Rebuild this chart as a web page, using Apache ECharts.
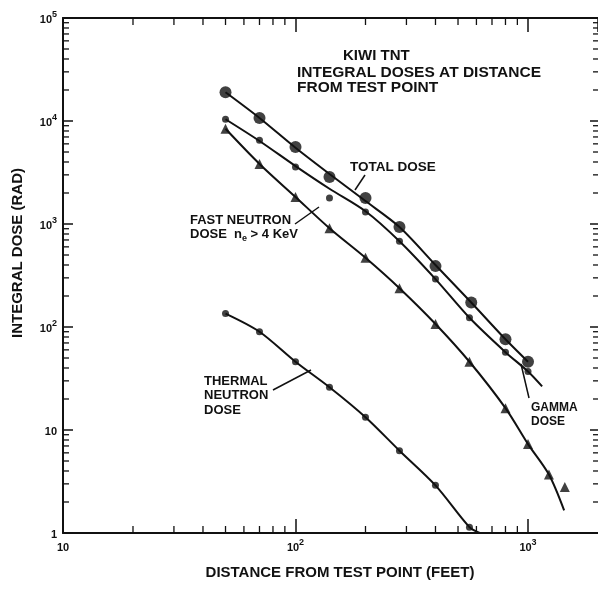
<!DOCTYPE html>
<html>
<head>
<meta charset="utf-8">
<script src="https://cdn.jsdelivr.net/npm/echarts@6/dist/echarts.min.js"></script>
<style>
html,body{margin:0;padding:0;background:#fff;}
#c{width:598px;height:589px;}
</style>
</head>
<body>
<div id="c"></div>
<script>
// ---- data ----
const distTotal   = [50, 70, 100, 140, 200, 280, 400, 570, 800, 1000];
const doseTotal   = [19000, 10700, 5600, 2860, 1790, 935, 390, 173, 76, 46];

const distGamma   = [50, 70, 100, 140, 200, 280, 400, 560, 800, 1000];
const doseGamma   = [10400, 6500, 3570, 1790, 1310, 680, 292, 123, 57, 37];

const distFast    = [50, 70, 100, 140, 200, 280, 400, 560, 800, 1000, 1230, 1440];
const doseFast    = [8400, 3830, 1830, 910, 470, 238, 107, 46, 16.3, 7.3, 3.7, 2.8];

const distThermal = [50, 70, 100, 140, 200, 280, 400, 560];
const doseThermal = [135, 90, 46, 26, 13.3, 6.3, 2.9, 1.14];

// fitted curves as drawn in the reference (they do not pass through every point)
const curveTotalX   = [50, 70, 100, 140, 200, 280, 400, 570, 800, 1000];
const curveTotalY   = [19000, 10700, 5500, 3060, 1670, 935, 400, 173, 76, 46];
const curveGammaX   = [50, 70, 100, 140, 200, 280, 400, 560, 800, 1000, 1150];
const curveGammaY   = [10400, 6400, 3650, 2200, 1330, 680, 292, 123, 57, 37, 26.5];
const curveFastX    = [50, 70, 100, 140, 200, 280, 400, 560, 800, 1000, 1230, 1430];
const curveFastY    = [8400, 3830, 1830, 910, 470, 238, 107, 46, 16.3, 7.3, 3.7, 1.66];
const curveThermalX = [50, 70, 100, 140, 200, 280, 400, 560, 620];
const curveThermalY = [135, 90, 46, 26, 13.3, 6.3, 2.9, 1.14, 1];

// axis ranges and minor tick values
const X_MIN = 10, X_MAX = 2000;
const Y_MIN = 1, Y_MAX = 100000;
const xMinorTicks = [20, 30, 40, 50, 60, 70, 80, 90, 200, 300, 400, 500, 600, 700, 800, 900];
const yMinorTicks = [2, 3, 4, 5, 6, 7, 8, 9, 20, 30, 40, 50, 60, 70, 80, 90,
  200, 300, 400, 500, 600, 700, 800, 900, 2000, 3000, 4000, 5000, 6000, 7000, 8000, 9000,
  20000, 30000, 40000, 50000, 60000, 70000, 80000, 90000];

const FONT = 'Liberation Sans';
const INK = '#111';

function pair(xs, ys) { return xs.map((x, i) => [x, ys[i]]); }

function powLabel(v) {
  const l = Math.log10(v);
  const e = Math.round(l);
  if (Math.abs(l - e) > 1e-6) return '';
  if (e === 0) return '{b|1}';
  if (e === 1) return '{b|10}';
  return '{b|10}{s|' + e + '}';
}
const labelRich = {
  b: { fontSize: 11, fontWeight: 'bold', fontFamily: FONT, color: INK, lineHeight: 15, verticalAlign: 'bottom' },
  s: { fontSize: 9, fontWeight: 'bold', fontFamily: FONT, color: INK, lineHeight: 9, verticalAlign: 'top' }
};

function axisCommon(extra) {
  return Object.assign({
    type: 'log', logBase: 10,
    axisLine: { show: true, lineStyle: { color: INK, width: 2 } },
    axisTick: { show: true, inside: true, length: 12, lineStyle: { color: INK, width: 1.5 } },
    splitLine: { show: false },
    minorTick: { show: false },
    minorSplitLine: { show: false }
  }, extra);
}

function minorXRender(params, api) {
  const v = api.value(0);
  const b = api.coord([v, Y_MIN]);
  const t = api.coord([v, Y_MAX]);
  return { type: 'group', children: [
    { type: 'line', shape: { x1: b[0], y1: b[1], x2: b[0], y2: b[1] - 7 }, style: { stroke: INK, lineWidth: 1.3 } },
    { type: 'line', shape: { x1: t[0], y1: t[1], x2: t[0], y2: t[1] + 7 }, style: { stroke: INK, lineWidth: 1.3 } }
  ]};
}
function minorYRender(params, api) {
  const v = api.value(1);
  const l = api.coord([X_MIN, v]);
  const r = api.coord([X_MAX, v]);
  return { type: 'group', children: [
    { type: 'line', shape: { x1: l[0], y1: l[1], x2: l[0] + 6, y2: l[1] }, style: { stroke: INK, lineWidth: 1.3 } },
    { type: 'line', shape: { x1: r[0], y1: r[1], x2: r[0] - 5, y2: r[1] }, style: { stroke: INK, lineWidth: 1.3 } }
  ]};
}

const lineStyleCurve = { color: INK, width: 2 };

const chart = echarts.init(document.getElementById('c'), null, { renderer: 'canvas' });
chart.setOption({
  backgroundColor: '#fff',
  animation: false,
  grid: { left: 63, top: 18, right: -2, bottom: 56 },
  xAxis: [
    axisCommon({ min: X_MIN, max: X_MAX, position: 'bottom',
      axisTick: { show: true, inside: true, length: 14, lineStyle: { color: INK, width: 1.5 } },
      axisLabel: { show: true, margin: 5, formatter: powLabel, rich: labelRich, showMaxLabel: false } }),
    axisCommon({ min: X_MIN, max: X_MAX, position: 'top',
      axisTick: { show: true, inside: true, length: 14, lineStyle: { color: INK, width: 1.5 } },
      axisLabel: { show: false } })
  ],
  yAxis: [
    axisCommon({ min: Y_MIN, max: Y_MAX, position: 'left',
      axisTick: { show: true, inside: true, length: 10, lineStyle: { color: INK, width: 1.5 } },
      axisLabel: { show: true, margin: 6, formatter: powLabel, rich: labelRich } }),
    axisCommon({ min: Y_MIN, max: Y_MAX, position: 'right',
      axisLine: { show: false },
      axisTick: { show: true, inside: true, length: 8, lineStyle: { color: INK, width: 1.5 } },
      axisLabel: { show: false } })
  ],
  series: [
    { type: 'custom', renderItem: minorXRender, data: xMinorTicks.map(v => [v, Y_MIN]), silent: true, clip: false, z: 5 },
    { type: 'custom', renderItem: minorYRender, data: yMinorTicks.map(v => [X_MIN, v]), silent: true, clip: false, z: 5 },

    { type: 'line', data: pair(curveTotalX, curveTotalY), smooth: 0.3, symbol: 'none', lineStyle: lineStyleCurve, silent: true },
    { type: 'line', data: pair(curveGammaX, curveGammaY), smooth: 0.3, symbol: 'none', lineStyle: lineStyleCurve, silent: true },
    { type: 'line', data: pair(curveFastX, curveFastY), smooth: 0.3, symbol: 'none', lineStyle: lineStyleCurve, silent: true },
    { type: 'line', data: pair(curveThermalX, curveThermalY), smooth: 0.3, symbol: 'none', lineStyle: lineStyleCurve, silent: true },

    { type: 'scatter', data: pair(distTotal, doseTotal), symbol: 'circle', symbolSize: 12, itemStyle: { color: INK }, z: 4 },
    { type: 'scatter', data: pair(distGamma, doseGamma), symbol: 'circle', symbolSize: 7, itemStyle: { color: INK }, z: 4 },
    { type: 'scatter', data: pair(distFast, doseFast), symbol: 'triangle', symbolSize: 10, itemStyle: { color: INK }, z: 4 },
    { type: 'scatter', data: pair(distThermal, doseThermal), symbol: 'circle', symbolSize: 7, itemStyle: { color: INK }, z: 4 }
  ],
  graphic: [
    { type: 'text', x: 343, y: 48, style: { text: 'KIWI TNT', fontSize: 15, fontWeight: 'bold', fontFamily: FONT, fill: INK, align: 'left', verticalAlign: 'top' } },
    { type: 'text', x: 297, y: 65, style: { text: 'INTEGRAL DOSES AT DISTANCE', fontSize: 15.5, fontWeight: 'bold', fontFamily: FONT, fill: INK, align: 'left', verticalAlign: 'top' } },
    { type: 'text', x: 297, y: 80, style: { text: 'FROM TEST POINT', fontSize: 15.5, fontWeight: 'bold', fontFamily: FONT, fill: INK, align: 'left', verticalAlign: 'top' } },

    { type: 'text', x: 350, y: 160, style: { text: 'TOTAL DOSE', fontSize: 13.5, fontWeight: 'bold', fontFamily: FONT, fill: INK, align: 'left', verticalAlign: 'top' } },
    { type: 'line', shape: { x1: 365, y1: 175, x2: 355, y2: 190 }, style: { stroke: INK, lineWidth: 1.5 } },

    { type: 'text', x: 190, y: 214, style: { text: 'FAST NEUTRON', fontSize: 13, fontWeight: 'bold', fontFamily: FONT, fill: INK, align: 'left', verticalAlign: 'top' } },
    { type: 'text', x: 190, y: 228, style: { text: '{a|DOSE  n}{e|e}{a| > 4 KeV}', align: 'left', verticalAlign: 'top',
        rich: { a: { fontSize: 13, fontWeight: 'bold', fontFamily: FONT, fill: INK, lineHeight: 15, verticalAlign: 'top' },
                e: { fontSize: 9, fontWeight: 'bold', fontFamily: FONT, fill: INK, lineHeight: 9, verticalAlign: 'bottom' } } } },
    { type: 'line', shape: { x1: 295, y1: 224, x2: 319, y2: 207 }, style: { stroke: INK, lineWidth: 1.5 } },

    { type: 'text', x: 204, y: 374, style: { text: 'THERMAL\nNEUTRON\nDOSE', fontSize: 13, lineHeight: 14.5, fontWeight: 'bold', fontFamily: FONT, fill: INK, align: 'left', verticalAlign: 'top' } },
    { type: 'line', shape: { x1: 273, y1: 390, x2: 311, y2: 370 }, style: { stroke: INK, lineWidth: 1.5 } },

    { type: 'text', x: 531, y: 401, style: { text: 'GAMMA\nDOSE', fontSize: 12, lineHeight: 13.5, fontWeight: 'bold', fontFamily: FONT, fill: INK, align: 'left', verticalAlign: 'top' } },
    { type: 'line', shape: { x1: 529, y1: 398, x2: 521, y2: 364 }, style: { stroke: INK, lineWidth: 1.5 } },

    { type: 'text', x: 340, y: 573, style: { text: 'DISTANCE FROM TEST POINT (FEET)', fontSize: 15, fontWeight: 'bold', fontFamily: FONT, fill: INK, align: 'center', verticalAlign: 'middle' } },
    { type: 'text', x: 18, y: 253, rotation: Math.PI / 2, style: { text: 'INTEGRAL DOSE (RAD)', fontSize: 15, fontWeight: 'bold', fontFamily: FONT, fill: INK, align: 'center', verticalAlign: 'middle' } }
  ]
});
</script>
</body>
</html>
